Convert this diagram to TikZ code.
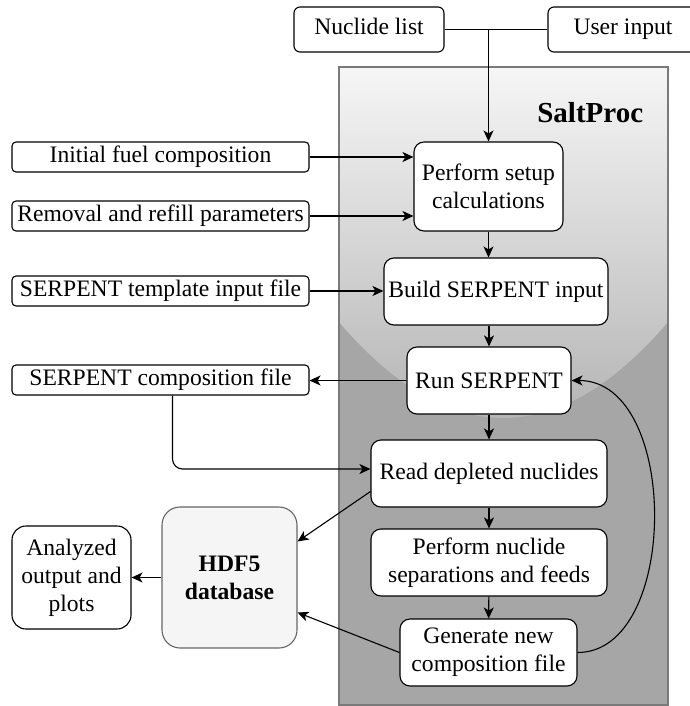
\documentclass[tikz,border=0pt]{standalone}
\usepackage{fontspec}
\setmainfont{LiberationSerif}[Extension=.ttf, UprightFont=*-Regular, BoldFont=*-Bold, ItalicFont=*-Italic, BoldItalicFont=*-BoldItalic]
\usetikzlibrary{arrows.meta}
\definecolor{procgray}{HTML}{A6A6A6}
\definecolor{procline}{HTML}{7A7A7A}
\definecolor{glasstop}{HTML}{F6F6F6}
\definecolor{glassbot}{HTML}{AFAFAF}
\definecolor{dbfill}{HTML}{F5F5F5}
\definecolor{dbline}{HTML}{666666}
\tikzstyle{txt}=[font=\fontsize{23.6}{28}\selectfont]
\tikzstyle{inbox}=[txt, draw, fill=white, rounded corners=4pt, line width=1.1pt, minimum width=297pt, minimum height=30pt, inner sep=0pt, text height=16pt, text depth=5pt]
\tikzstyle{topbox}=[txt, draw, fill=white, rounded corners=6pt, line width=1.1pt, minimum width=150pt, minimum height=45pt, inner sep=0pt, text height=16pt, text depth=5pt]
\tikzstyle{stepbox}=[txt, draw, fill=white, rounded corners=10pt, line width=1.1pt, minimum height=67pt, inner sep=0pt, align=center]
\tikzstyle{dbbox}=[txt, draw=dbline, fill=dbfill, rounded corners=18pt, line width=1.1pt, minimum width=135pt, minimum height=141pt, inner sep=0pt, align=center]
\tikzstyle{outbox}=[txt, draw, fill=white, rounded corners=14pt, line width=1.1pt, minimum width=119pt, minimum height=103pt, inner sep=0pt, align=center]

\begin{document}
\begin{tikzpicture}[x=1pt, y=-1pt, line width=1.1pt, >={Stealth[length=11pt, width=10pt, inset=3pt]}]
\useasboundingbox (0, 0) rectangle (689, 706);
% SaltProc container with glass shine
\fill[procgray] (339, 67) rectangle (668, 705);
\begin{scope}
\clip (339, 67) -- (339, 322) .. controls (448.7, 450) and (558.3, 450) .. (668, 322) -- (668, 67) -- cycle;
\shade[top color=glasstop, bottom color=glassbot] (339, 67) rectangle (668, 450);
\end{scope}
\draw[procline, line width=2.5pt] (339, 67) rectangle (668, 705);
\node[font=\fontsize{29}{32}\selectfont\bfseries, anchor=base east] at (647, 123) (title) {SaltProc};

\node[topbox] at (369, 29.5) (nuc) {Nuclide list};
\node[topbox] at (623, 29.5) (user) {User input};
\node[inbox] at (160.5, 157) (fuel) {Initial fuel composition};
\node[inbox] at (160.5, 216) (remov) {Removal and refill parameters};
\node[inbox] at (160.5, 291) (tmpl) {SERPENT template input file};
\node[inbox] at (160.5, 380) (comp) {SERPENT composition file};

\node[stepbox, minimum width=149pt, minimum height=89pt] at (488.5, 186.5) (setup) {Perform setup\\calculations};
\node[stepbox, minimum width=224pt] at (496, 291.5) (build) {Build SERPENT input};
\node[stepbox, minimum width=164pt] at (489, 380.5) (run) {Run SERPENT};
\node[stepbox, minimum width=236pt] at (489, 473.5) (read) {Read depleted nuclides};
\node[stepbox, minimum width=236pt] at (489, 562.5) (sep) {Perform nuclide\\separations and feeds};
\node[stepbox, minimum width=177pt] at (488.5, 652.5) (gen) {Generate new\\composition file};

\node[dbbox] at (229.5, 577.5) (hdf) {\bfseries HDF5\\\bfseries database};
\node[outbox] at (71.5, 577.5) (ana) {Analyzed\\output and\\plots};

\draw (nuc.east) -- (user.west);
\draw[->] (nuc.east -| setup.north) -- (setup.north);
\draw[->] (fuel.east) -- (fuel.east -| setup.west);
\draw[->] (remov.east) -- (remov.east -| setup.west);
\draw[->] (tmpl.east) -- (tmpl.east -| build.west);
\draw[->] (setup.south) -- (setup.south |- build.north);
\draw[->] (build.south -| run.north) -- (run.north);
\draw[->] (run.west) -- (run.west -| comp.east);
\draw[->] (run) -- (read);
\draw[->] (read) -- (sep);
\draw[->] (sep) -- (gen);
\draw[->, rounded corners=10pt] ([xshift=12pt]comp.south) |- ([yshift=4.5pt]read.west);
\draw[->] ([yshift=-18pt]read.west) -- ([yshift=36pt]hdf.east);
\draw[->] (gen.west) -- ([yshift=-35pt]hdf.east);
\draw[->] (hdf.west) -- (ana.east);
\draw[->] (gen.east) .. controls (680, 652.5) and (680, 380.5) .. (run.east);
\end{tikzpicture}
\end{document}
